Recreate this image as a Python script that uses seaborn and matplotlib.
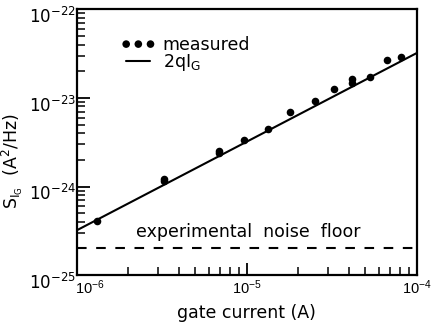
import matplotlib
matplotlib.use("Agg")
import matplotlib.pyplot as plt
import seaborn as sns
import pandas as pd
from matplotlib.ticker import LogLocator, NullFormatter
from matplotlib.transforms import ScaledTranslation

# measured gate-current noise
gate_current = [1.31e-6, 3.26e-6, 3.26e-6, 6.87e-6, 6.87e-6, 9.68e-6, 1.34e-5,
                1.80e-5, 2.51e-5, 3.25e-5, 4.18e-5, 4.18e-5, 5.29e-5, 6.69e-5, 8.11e-5]
noise_psd = [4.13e-25, 1.22e-24, 1.16e-24, 2.54e-24, 2.41e-24, 3.35e-24, 4.49e-24,
             6.93e-24, 9.16e-24, 1.25e-23, 1.62e-23, 1.48e-23, 1.72e-23, 2.68e-23, 2.90e-23]

# shot-noise line 2qI_G (endpoints)
theory_current = [1e-6, 1e-4]
theory_psd = [3.2e-25, 3.2e-23]

noise_floor = 2.0e-25

sns.set_theme(style="ticks")
plt.rcParams['font.family'] = ['DejaVu Sans']
plt.rcParams['mathtext.default'] = 'regular'
plt.rcParams['text.color'] = 'black'
plt.rcParams['axes.labelcolor'] = 'black'
plt.rcParams['xtick.color'] = 'black'
plt.rcParams['ytick.color'] = 'black'
plt.rcParams['axes.edgecolor'] = 'black'

fig = plt.figure(figsize=(4.33, 3.26), dpi=100)
ax = fig.add_axes([0.177, 0.156, 0.785, 0.8155])

df = pd.DataFrame({"I": gate_current, "S": noise_psd})
dt = pd.DataFrame({"I": theory_current, "S": theory_psd})

sns.scatterplot(data=df, x="I", y="S", ax=ax, color="black", s=30,
                edgecolor="black", linewidth=0, label="measured", zorder=3)
sns.lineplot(data=dt, x="I", y="S", ax=ax, color="black", linewidth=1.5,
             label=r"2qI$_G$")
ax.axhline(noise_floor, color="black", linewidth=1.5, dashes=(4.6, 4.6))

ax.set_xscale("log")
ax.set_yscale("log")
ax.set_xlim(1e-6, 1e-4)
ax.set_ylim(1e-25, 1e-22)

ax.xaxis.set_minor_locator(LogLocator(base=10, subs=range(2, 10)))
ax.yaxis.set_minor_locator(LogLocator(base=10, subs=range(2, 10)))
ax.xaxis.set_minor_formatter(NullFormatter())
ax.yaxis.set_minor_formatter(NullFormatter())

ax.tick_params(axis="both", which="major", direction="in", length=9, width=1.3,
               top=False, right=False, colors="black")
ax.tick_params(axis="y", which="major", labelsize=12, pad=0.5)
ax.tick_params(axis="x", which="major", labelsize=10.5, pad=2.5)
ax.tick_params(axis="both", which="minor", direction="in", length=5.5, width=1.1,
               top=False, right=False, colors="black")

for sp in ax.spines.values():
    sp.set_visible(True)
    sp.set_linewidth(1.6)
    sp.set_color("black")

ax.set_xlabel("gate current (A)", fontsize=12.5, va="top", color="black")
ax.xaxis.set_label_coords(0.5, -0.11)
ax.set_ylabel(r"$S_{I_G}$  (A$^2$/Hz)", fontsize=12.5, color="black")
ax.yaxis.set_label_coords(-0.152, 0.43)

ax.text(2.25e-6, 2.45e-25, "experimental  noise  floor", fontsize=12.5,
        ha="left", va="bottom", color="black")

leg = ax.legend(loc="upper left", frameon=False, fontsize=12.5, numpoints=3,
                scatterpoints=3, scatteryoffsets=[0.5, 0.5, 0.5],
                handlelength=2.0, handletextpad=0.4, labelspacing=-0.1,
                bbox_to_anchor=(0.11, 0.925), borderaxespad=0)
for t in leg.get_texts():
    t.set_color("black")

fig.canvas.draw()
for lab in ax.get_yticklabels():
    lab.set_transform(lab.get_transform() + ScaledTranslation(0, -4 / 72, fig.dpi_scale_trans))
for lab in ax.get_xticklabels():
    lab.set_fontfamily(['Liberation Sans Narrow', 'Liberation Sans'])
    txt = lab.get_text().replace('{', '').replace('}', '').replace('\u2212', '-')
    if '-6' in txt:
        lab.set_transform(lab.get_transform() + ScaledTranslation(9.5 / 72, 0, fig.dpi_scale_trans))

fig.savefig("out.png", dpi=100)
